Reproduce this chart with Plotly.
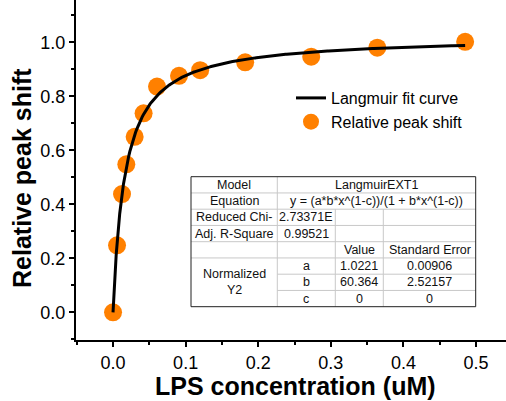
import numpy as np
import plotly.graph_objects as go

# ---- data ----
lps_conc = [0.0, 0.0055, 0.0124, 0.0183, 0.0298, 0.0421, 0.0606, 0.0909, 0.120, 0.182, 0.273, 0.364, 0.485]
rel_shift = [0.0, 0.248, 0.438, 0.548, 0.650, 0.737, 0.836, 0.876, 0.897, 0.926, 0.947, 0.980, 1.002]

# fitted Langmuir parameters (from the table in the chart)
fit_a = 1.0221
fit_b = 60.364
fit_c = 0.0

x_ticks = [0.0, 0.1, 0.2, 0.3, 0.4, 0.5]
y_ticks = [0.0, 0.2, 0.4, 0.6, 0.8, 1.0]

table_col1 = ["Model", "Equation", "Reduced Chi-", "Adj. R-Square", "", "Normalized<br>Y2"]
table_span = ["LangmuirEXT1", "y = (a*b*x^(1-c))/(1 + b*x^(1-c))"]
table_col2 = ["2.73371E", "0.99521", "", "a", "b", "c"]
table_col3 = ["", "", "Value", "1.0221", "60.364", "0"]
table_col4 = ["", "", "Standard Error", "0.00906", "2.52157", "0"]

# ---- fit curve from the fitted parameters ----
x_fit = np.concatenate([np.linspace(0, 0.02, 200), np.linspace(0.02, max(lps_conc), 300)])
xe = np.power(x_fit, 1 - fit_c)
y_fit = fit_a * fit_b * xe / (1 + fit_b * xe)

W, H = 506, 401
ML, MR, MT, MB = 76, 0, 0, 61
PW, PH = W - ML - MR, H - MT - MB

def px(xp):
    return (xp - ML) / PW

def py(yp):
    return (MT + PH - yp) / PH

FONT = "Liberation Sans, Arial, sans-serif"
ORANGE = "#FF8000"

fig = go.Figure()
fig.add_trace(go.Scatter(
    x=lps_conc, y=rel_shift, mode="markers", name="Relative peak shift",
    marker=dict(color=ORANGE, size=18, line=dict(width=0)),
    legendgroup="g2", legendrank=2, cliponaxis=False))
fig.add_trace(go.Scatter(
    x=x_fit, y=y_fit, mode="lines", name="Langmuir fit curve",
    line=dict(color="black", width=3), legendgroup="g1", legendrank=1))

shapes = []
annotations = []

# table geometry
c = [191, 277.3, 335.3, 383.3, 475.7]
r = [176.7 + 16.25 * i for i in range(9)]
GRID = "#c8c8c8"

def hline(x0, x1, y, color=GRID, w=1):
    shapes.append(dict(type="line", xref="paper", yref="paper",
                       x0=px(x0), x1=px(x1), y0=py(y), y1=py(y),
                       line=dict(color=color, width=w)))

def vline(x, y0, y1, color=GRID, w=1):
    shapes.append(dict(type="line", xref="paper", yref="paper",
                       x0=px(x), x1=px(x), y0=py(y0), y1=py(y1),
                       line=dict(color=color, width=w)))

shapes.append(dict(type="rect", xref="paper", yref="paper",
                   x0=px(c[0]), x1=px(c[4]), y0=py(r[8]), y1=py(r[0]),
                   fillcolor="white", line=dict(width=0), layer="above"))
for i in range(1, 6):
    hline(c[0], c[4], r[i])
for i in (6, 7):
    hline(c[1], c[4], r[i])
vline(c[1], r[0], r[8])
vline(c[2], r[2], r[8])
vline(c[3], r[2], r[8])
shapes.append(dict(type="rect", xref="paper", yref="paper",
                   x0=px(c[0]), x1=px(c[4]), y0=py(r[8]), y1=py(r[0]),
                   line=dict(color="#202020", width=1)))

TFS = 12.5

def cell(text, x0, x1, y0, y1):
    annotations.append(dict(text=text, xref="paper", yref="paper",
                            x=px((x0 + x1) / 2), y=py((y0 + y1) / 2),
                            xanchor="center", yanchor="middle", showarrow=False,
                            font=dict(family=FONT, size=TFS, color="#111111")))

for i in range(2):
    cell(table_col1[i], c[0], c[1], r[i], r[i + 1])
    cell(table_span[i], c[1], c[4], r[i], r[i + 1])
for i in range(2, 5):
    cell(table_col1[i], c[0], c[1], r[i], r[i + 1])
cell(table_col1[5], c[0], c[1], r[5], r[8])
for k in range(6):
    ri = k + 2
    cell(table_col2[k], c[1], c[2], r[ri], r[ri + 1])
    cell(table_col3[k], c[2], c[3], r[ri], r[ri + 1])
    cell(table_col4[k], c[3], c[4], r[ri], r[ri + 1])

# axis titles
annotations.append(dict(text="<b>LPS concentration (uM)</b>", xref="paper", yref="paper",
                        x=px(295), y=py(386), xanchor="center", yanchor="middle",
                        showarrow=False, font=dict(family=FONT, size=25, color="black")))
annotations.append(dict(text="<b>Relative peak shift</b>", xref="paper", yref="paper",
                        x=px(22), y=py(178), xanchor="center", yanchor="middle",
                        textangle=-90, showarrow=False,
                        font=dict(family=FONT, size=25, color="black")))

fig.update_layout(
    width=W, height=H,
    margin=dict(l=ML, r=MR, t=MT, b=MB),
    plot_bgcolor="white", paper_bgcolor="white",
    font=dict(family=FONT, color="black"),
    shapes=shapes, annotations=annotations,
    showlegend=True,
    legend=dict(x=px(291), y=py(81), xanchor="left", yanchor="top",
                bgcolor="rgba(0,0,0,0)", font=dict(family=FONT, size=16, color="black"),
                traceorder="grouped", tracegroupgap=0, itemsizing="trace"),
)
fig.update_xaxes(
    range=[-0.051, -0.051 + PW / 726.0],
    tickvals=x_ticks, tickformat=".1f",
    showline=True, linecolor="black", linewidth=2,
    ticks="outside", ticklen=5, tickwidth=2, tickcolor="black",
    minor=dict(dtick=0.05, tick0=0, ticks="outside", ticklen=3, tickwidth=2, tickcolor="black"),
    showgrid=False, zeroline=False,
    tickfont=dict(family=FONT, size=18, color="black"),
)
fig.update_yaxes(
    range=[-0.1025, -0.1025 + PH / 270.0],
    tickvals=y_ticks, tickformat=".1f",
    showline=True, linecolor="black", linewidth=2,
    ticks="outside", ticklen=5, tickwidth=2, tickcolor="black",
    minor=dict(dtick=0.1, tick0=0, ticks="outside", ticklen=3, tickwidth=2, tickcolor="black"),
    showgrid=False, zeroline=False,
    tickfont=dict(family=FONT, size=18, color="black"),
)

fig.write_html("out.html")
